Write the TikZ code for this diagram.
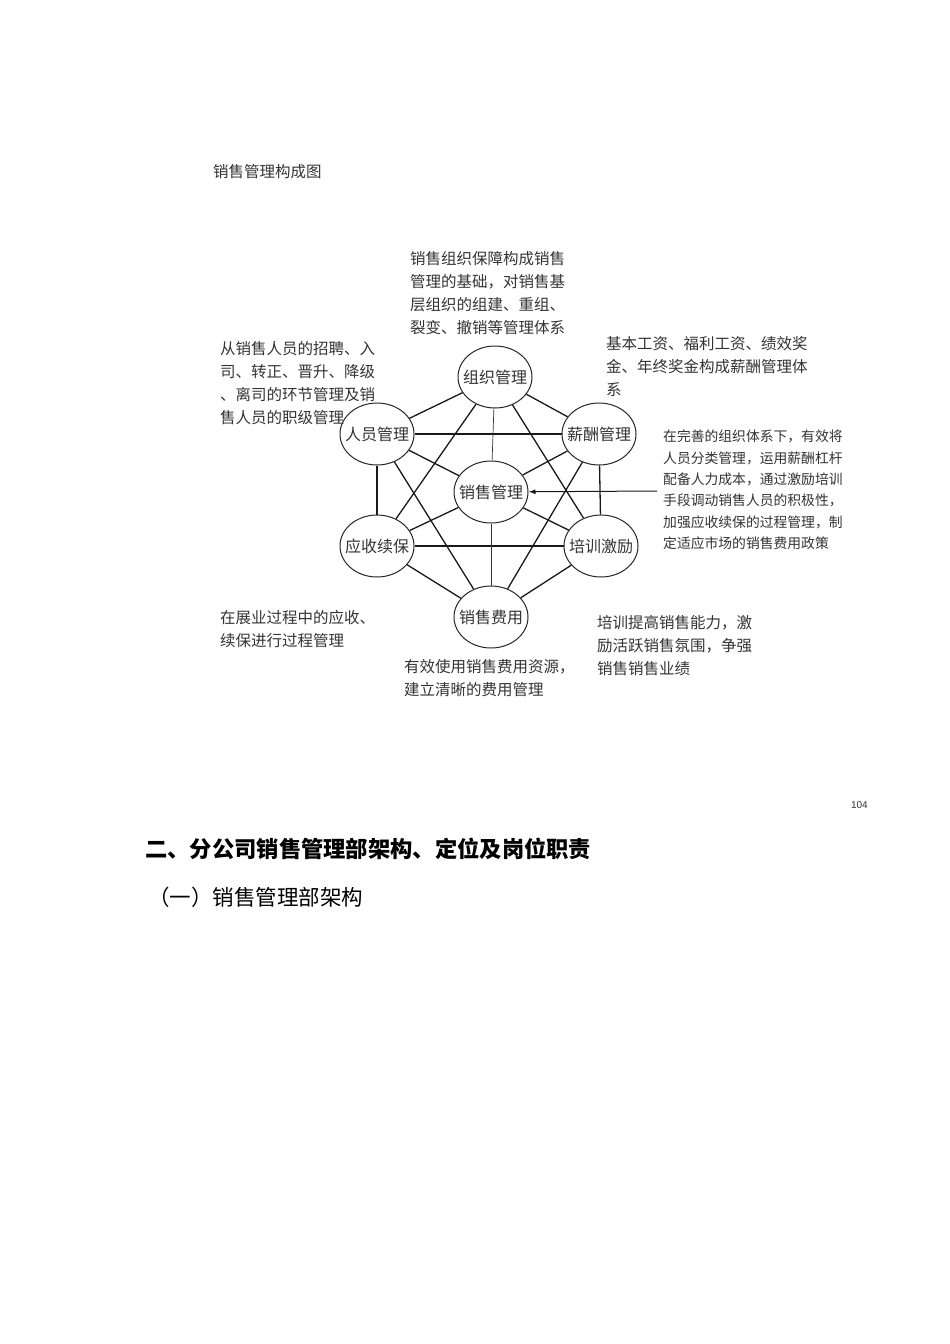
\documentclass[tikz,border=0pt]{standalone}
\usepackage{fontspec}
\setmainfont{Noto Sans CJK SC}
\newfontfamily\numfont{Liberation Sans}
\usetikzlibrary{shapes.geometric,arrows.meta}
\newcommand{\rtxt}[1]{\makebox[0pt]{#1}}

\begin{document}
\begin{tikzpicture}[x=1pt,y=-1pt,
    ring/.style={ellipse,draw=black!85,line width=1pt,inner sep=0pt,
      minimum width=74pt,minimum height=62pt,text=black!80,
      font=\fontsize{16}{16}\selectfont},
    note/.style={anchor=north west,align=left,inner sep=0pt,text=black!80,
      font=\fontsize{15.5}{23}\selectfont},
    link/.style={draw=black!90,line width=1.3pt},
    thinlink/.style={draw=black!80,line width=0.7pt}]
  \useasboundingbox (0,0) rectangle (950,1344);

  % title of the figure
  \node[note] (title) at (213,164) {销售管理构成图};

  % the seven parts
  \node[ring] (zuzhi)    at (495,377) {\rtxt{组织管理}};
  \node[ring] (renyuan)  at (377,434) {\rtxt{人员管理}};
  \node[ring] (xinchou)  at (599,434) {\rtxt{薪酬管理}};
  \node[ring] (xiaoshou) at (491,492) {\rtxt{销售管理}};
  \node[ring] (yingshou) at (377,546) {\rtxt{应收续保}};
  \node[ring] (peixun)   at (601,546) {\rtxt{培训激励}};
  \node[ring] (feiyong)  at (491,617) {\rtxt{销售费用}};

  % links between the outer parts
  \foreach \a/\b in {zuzhi/renyuan,zuzhi/xinchou,zuzhi/yingshou,zuzhi/peixun,
      renyuan/xinchou,renyuan/yingshou,renyuan/feiyong,
      xinchou/peixun,xinchou/feiyong,
      yingshou/peixun,yingshou/feiyong,peixun/feiyong}
    \draw[link] (\a) -- (\b);
  % links to the centre
  \foreach \a in {renyuan,xinchou,yingshou,peixun}
    \draw[link] (\a) -- (xiaoshou);
  \draw[thinlink] (zuzhi) -- (xiaoshou);
  \draw[thinlink] (xiaoshou) -- (feiyong);

  % notes round the figure
  \node[note] (zuzhinote) at (410,251)
    {销售组织保障构成销售\\管理的基础，对销售基\\层组织的组建、重组、\\裂变、撤销等管理体系};
  \node[note] (renyuannote) at (220,341)
    {从销售人员的招聘、入\\司、转正、晋升、降级\\、离司的环节管理及销\\售人员的职级管理};
  \node[note] (xinchounote) at (606,336)
    {基本工资、福利工资、绩效奖\\金、年终奖金构成薪酬管理体\\系};
  \node[note,font=\fontsize{13.8}{21.3}\selectfont] (xiaoshounote) at (663,430)
    {在完善的组织体系下，有效将\\人员分类管理，运用薪酬杠杆\\配备人力成本，通过激励培训\\手段调动销售人员的积极性，\\加强应收续保的过程管理，制\\定适应市场的销售费用政策};
  \node[note] (yingshounote) at (220,610)
    {在展业过程中的应收、\\续保进行过程管理};
  \node[note] (peixunnote) at (597,615)
    {培训提高销售能力，激\\励活跃销售氛围，争强\\销售销售业绩};
  \node[note] (feiyongnote) at (404,659)
    {有效使用销售费用资源，\\建立清晰的费用管理};

  \coordinate (arrowtail) at (657,491);
  \draw[link,line width=1pt,-{Latex[length=7pt,width=5pt]}] (arrowtail) -- (xiaoshou);

  % page text below
  \node[anchor=east,inner sep=0pt,text=black!80,font=\numfont\fontsize{10}{10}\selectfont]
    (pagenum) at (868,805) {104};
  \node[note,font=\bfseries\fontsize{22.3}{22.3}\selectfont,text=black] (heading) at (145,838)
    {二、分公司销售管理部架构、定位及岗位职责};
  \node[note,font=\fontsize{21.5}{21.5}\selectfont,text=black] (subheading) at (148,887)
    {（一）销售管理部架构};
\end{tikzpicture}
\end{document}
